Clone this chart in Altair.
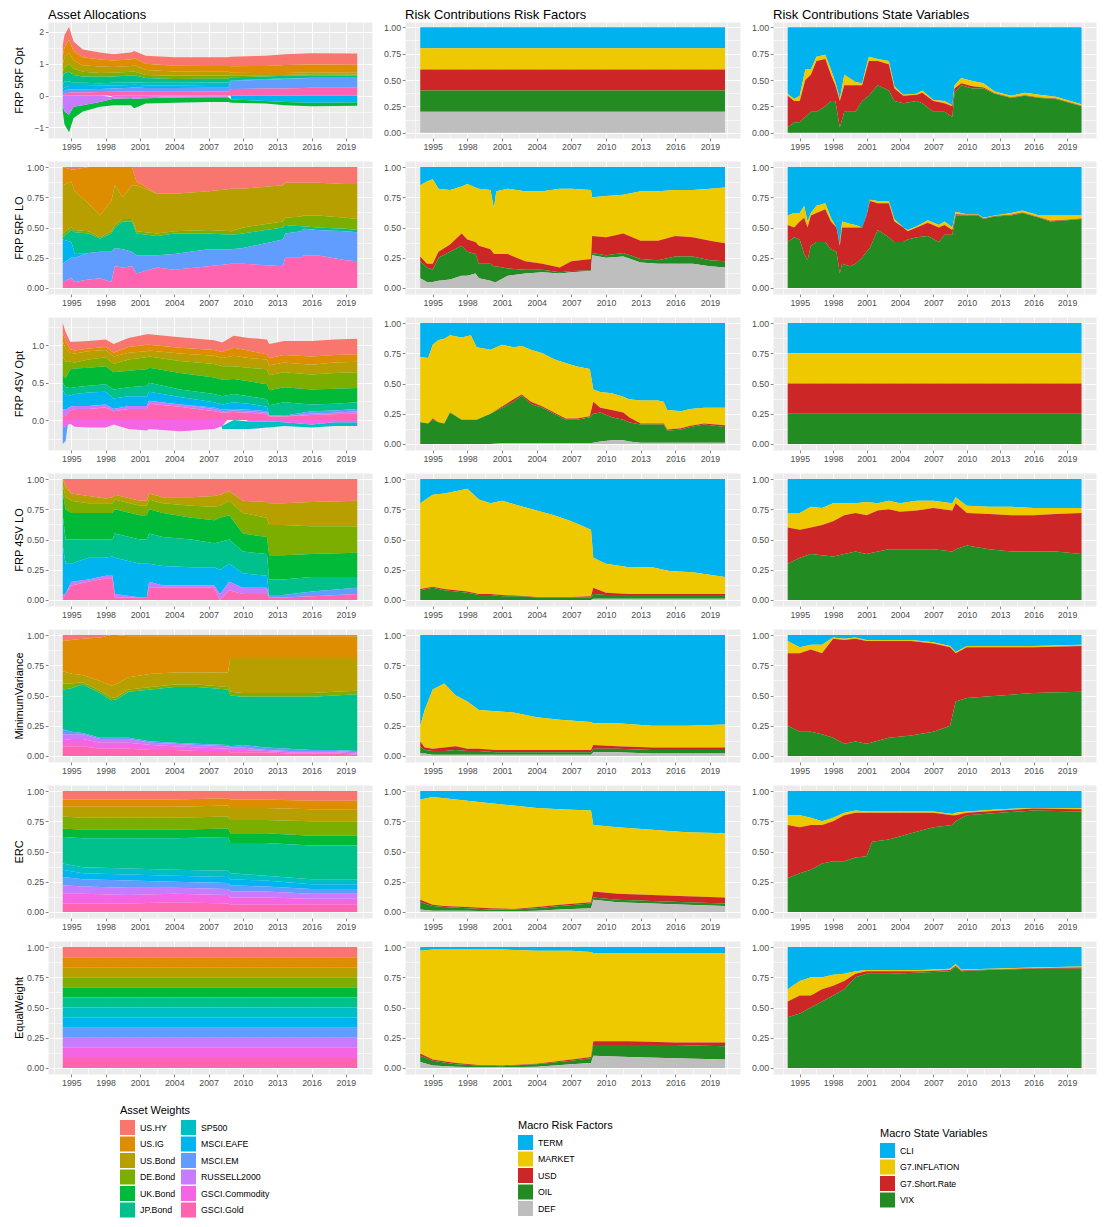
import json
import altair as alt
import pandas as pd

# ---------------- categories ----------------
ROW_LABELS = ["FRP 5RF Opt", "FRP 5RF LO", "FRP 4SV Opt", "FRP 4SV LO",
              "MinimumVariance", "ERC", "EqualWeight"]
COL_TITLES = ["Asset Allocations", "Risk Contributions Risk Factors",
              "Risk Contributions State Variables"]

ASSETS = ["US.HY", "US.IG", "US.Bond", "DE.Bond", "UK.Bond", "JP.Bond",
          "SP500", "MSCI.EAFE", "MSCI.EM", "RUSSELL2000", "GSCI.Commodity", "GSCI.Gold"]
ASSET_COLORS = ["#F8766D", "#DE8C00", "#B79F00", "#7CAE00", "#00BA38", "#00C08B",
                "#00BFC4", "#00B4F0", "#619CFF", "#C77CFF", "#F564E3", "#FF64B0"]
FACTORS = ["TERM", "MARKET", "USD", "OIL", "DEF"]
FACTOR_COLORS = ["#00B2EE", "#EEC900", "#CD2626", "#228B22", "#BEBEBE"]
STATES = ["CLI", "G7.INFLATION", "G7.Short.Rate", "VIX"]
STATE_COLORS = ["#00B2EE", "#EEC900", "#CD2626", "#228B22"]

# ---------------- tick labels ----------------
X_MAJOR = [1995, 1998, 2001, 2004, 2007, 2010, 2013, 2016, 2019]
X_MINOR = [1993.5, 1996.5, 1999.5, 2002.5, 2005.5, 2008.5, 2011.5, 2014.5, 2017.5, 2020.5]
P_MAJOR = [0.0, 0.25, 0.5, 0.75, 1.0]
P_MINOR = [0.125, 0.375, 0.625, 0.875]
W1_MAJOR = [-1, 0, 1, 2]
W1_MINOR = [-0.5, 0.5, 1.5]
W3_MAJOR = [0.0, 0.5, 1.0]
W3_MINOR = [-0.25, 0.25, 0.75, 1.25]

# ---------------- asset weights (columns in ASSETS order) ----------------
T_W1 = [1994.25, 1994.4, 1994.8, 1995.2, 1996.0, 1997.5, 1998.7, 2000.2, 2000.5, 2001.5,
        2004.0, 2007.0, 2008.7, 2009.0, 2012.0, 2013.7, 2016.0, 2020.0]
W1 = [
    [.35, .25, .25, .15, -.20, .25, .15, .10, .05, -.30, 0, .05],
    [.40, .30, .30, .20, -.40, .25, .20, .10, .10, -.50, 0, .05],
    [.40, .40, .35, .25, -.55, .30, .15, .10, .10, -.60, 0, .10],
    [.30, .30, .25, .20, -.35, .25, .10, .10, .10, -.35, 0, .10],
    [.25, .25, .20, .15, -.20, .20, .10, .10, .10, -.30, 0, .10],
    [.22, .22, .20, .12, -.15, .20, .08, .10, .10, -.20, 0, .11],
    [.20, .20, .18, .12, -.20, .20, .08, .10, .10, -.05, -.05, .12],
    [.22, .20, .18, .12, -.22, .22, .08, .08, .12, -.04, -.04, .13],
    [.22, .22, .20, .12, -.30, .22, .08, .08, .12, -.05, -.05, .14],
    [.25, .20, .15, .10, -.17, .15, .08, .08, .12, -.04, -.04, .12],
    [.26, .18, .14, .10, -.16, .12, .08, .08, .12, -.03, -.03, .12],
    [.27, .18, .12, .10, -.15, .12, .08, .08, .12, -.03, -.02, .13],
    [.27, .18, .12, .10, -.15, .12, .08, .08, .12, -.03, -.02, .13],
    [.30, .20, .08, .06, -.10, .10, .02, -.12, .25, 0, 0, .21],
    [.32, .22, .07, .04, -.08, .08, .02, -.17, .28, 0, 0, .22],
    [.34, .25, .06, .03, -.10, .08, .02, -.20, .30, 0, 0, .22],
    [.35, .25, .06, .03, -.11, .08, .01, -.22, .30, 0, 0, .25],
    [.35, .25, .06, .03, -.11, .07, .01, -.21, .30, 0, 0, .25],
]

T_W2 = [1994.25, 1995.0, 1995.3, 1996.5, 1997.5, 1998.5, 1998.8, 1999.5, 2000.3, 2000.7,
        2002.5, 2004.0, 2007.0, 2009.0, 2010.0, 2013.5, 2013.7, 2015.1, 2015.3, 2016.5,
        2019.0, 2020.0]
W2 = [
    [0, .15, .40, .03, 0, .02, 0, .20, .15, 0, 0, .05],
    [.02, .10, .38, .02, 0, .10, 0, .13, .17, 0, 0, .08],
    [.02, .18, .32, .02, 0, .18, 0, .03, .20, 0, 0, .05],
    [0, .30, .23, .02, 0, .16, 0, 0, .22, 0, 0, .07],
    [0, .40, .18, .01, 0, .11, 0, 0, .22, 0, 0, .08],
    [0, .28, .25, .02, 0, .15, 0, 0, .25, 0, 0, .05],
    [0, .15, .33, .02, 0, .17, 0, 0, .15, 0, 0, .18],
    [0, .25, .18, .02, 0, .23, 0, 0, .15, 0, 0, .17],
    [0, .15, .28, .02, 0, .25, 0, 0, .12, 0, 0, .18],
    [.12, .03, .38, .02, 0, .18, 0, 0, .15, 0, 0, .12],
    [.22, 0, .33, .02, 0, .16, 0, 0, .10, 0, 0, .17],
    [.22, 0, .31, .02, 0, .17, 0, 0, .13, 0, 0, .15],
    [.20, 0, .32, .03, 0, .13, 0, 0, .14, 0, 0, .18],
    [.18, 0, .35, .03, 0, .12, 0, 0, .12, 0, 0, .20],
    [.18, 0, .32, .05, 0, .12, 0, 0, .13, 0, 0, .20],
    [.15, 0, .30, .05, 0, .10, 0, 0, .22, 0, 0, .18],
    [.13, 0, .29, .06, 0, .07, 0, 0, .20, 0, 0, .25],
    [.13, 0, .28, .08, 0, .04, 0, 0, .22, 0, 0, .25],
    [.13, 0, .27, .09, 0, .02, 0, 0, .22, 0, 0, .27],
    [.13, 0, .27, .10, 0, .02, 0, 0, .21, 0, 0, .27],
    [.14, 0, .28, .09, 0, .02, 0, 0, .24, 0, 0, .23],
    [.14, 0, .29, .09, 0, .02, 0, 0, .24, 0, 0, .22],
]

T_W3 = [1994.25, 1994.5, 1994.9, 1995.3, 1996.5, 1998.0, 1998.7, 2000.0, 2001.6, 2001.8,
        2004.5, 2007.5, 2008.2, 2009.2, 2010.5, 2012.1, 2012.3, 2013.6, 2016.0, 2018.0, 2020.0]
W3 = [
    [.13, .12, .20, .25, .10, .10, 0, .25, -.22, .10, -.10, .05],
    [.12, .10, .18, .22, .12, .10, 0, .20, -.20, .08, -.08, .06],
    [.10, .05, .12, .10, .25, .10, 0, .15, 0, .05, -.05, .13],
    [.12, .04, .12, .08, .25, .09, 0, .16, 0, .04, -.09, .15],
    [.10, .04, .11, .11, .24, .09, 0, .18, 0, .04, -.10, .15],
    [.10, .04, .10, .12, .24, .10, 0, .17, 0, .04, -.10, .17],
    [.12, .05, .10, .11, .23, .12, 0, .14, 0, .03, -.06, .12],
    [.12, .08, .09, .15, .22, .12, 0, .13, 0, .04, -.12, .15],
    [.14, .09, .08, .16, .22, .14, 0, .13, 0, .04, -.14, .15],
    [.14, .08, .08, .15, .20, .12, 0, .12, 0, .04, -.12, .22],
    [.14, .08, .10, .16, .22, .10, 0, .10, 0, .03, -.15, .18],
    [.13, .08, .11, .18, .22, .11, 0, .07, .02, .03, -.12, .12],
    [.13, .08, .11, .18, .22, .11, -.04, .07, .02, .02, -.08, .10],
    [.16, .11, .14, .17, .20, .11, -.12, .09, .02, .02, 0, .11],
    [.17, .10, .13, .18, .20, .10, -.10, .08, .02, .02, -.02, .10],
    [.20, .07, .13, .20, .20, .10, -.08, .06, .02, .02, -.02, .08],
    [.19, .10, .13, .20, .20, .13, -.08, 0, .01, .01, -.02, .05],
    [.19, .10, .13, .20, .20, .18, -.05, 0, .01, 0, -.03, .05],
    [.21, .11, .13, .20, .20, .09, -.04, 0, .03, .02, -.06, .07],
    [.21, .10, .14, .21, .20, .09, -.05, 0, .03, .02, -.03, .08],
    [.21, .10, .14, .21, .19, .09, -.05, 0, .03, .03, -.03, .09],
]

T_W4 = [1994.25, 1994.5, 1995.0, 1996.5, 1998.0, 1998.6, 1998.8, 2001.0, 2001.6, 2001.8,
        2003.0, 2005.5, 2007.5, 2008.0, 2008.8, 2010.0, 2012.1, 2012.3, 2013.5, 2016.0, 2020.0]
W4 = [
    [0, 0, .05, .07, .18, .25, 0, .40, 0, .05, 0, 0],
    [.05, .02, .08, .10, .25, .20, 0, .25, 0, 0, 0, .05],
    [.12, 0, .06, .10, .22, .20, 0, .15, 0, .03, 0, .12],
    [.14, 0, .06, .08, .22, .15, 0, .18, 0, .02, 0, .15],
    [.16, 0, .04, .08, .22, .15, 0, .15, 0, .02, 0, .18],
    [.15, 0, .05, .08, .22, .14, 0, .16, 0, .02, 0, .18],
    [.13, 0, .04, .08, .20, .20, 0, .30, 0, .03, 0, .02],
    [.18, 0, .04, .08, .20, .20, 0, .28, 0, 0, 0, .02],
    [.18, 0, .04, .08, .20, .20, 0, .28, 0, 0, 0, .02],
    [.12, 0, .05, .08, .20, .25, 0, .15, 0, .05, 0, .10],
    [.15, 0, .05, .08, .20, .24, 0, .16, 0, .02, 0, .10],
    [.15, 0, .07, .10, .18, .23, 0, .15, 0, .02, 0, .10],
    [.14, 0, .09, .11, .19, .20, 0, .15, 0, .02, 0, .10],
    [.13, 0, .09, .10, .20, .23, 0, .20, 0, .05, 0, 0],
    [.10, 0, .08, .12, .20, .20, 0, .15, 0, .07, 0, .08],
    [.18, 0, .10, .17, .15, .18, 0, .12, 0, .05, 0, .05],
    [.19, 0, .13, .16, .14, .18, 0, .10, 0, .05, 0, .05],
    [.20, 0, .18, .25, .20, .13, 0, 0, .02, 0, 0, .02],
    [.20, 0, .18, .25, .20, .13, 0, 0, .02, 0, 0, .02],
    [.19, 0, .20, .23, .19, .12, 0, 0, .04, 0, 0, .03],
    [.18, 0, .21, .22, .20, .09, 0, 0, .05, 0, 0, .05],
]

T_W5 = [1994.25, 1995.0, 1996.0, 1997.5, 1998.5, 1999.0, 2000.0, 2002.0, 2004.0, 2006.0,
        2008.7, 2008.9, 2010.0, 2012.0, 2014.0, 2016.0, 2018.0, 2020.0]
W5 = [
    [.05, .25, .10, .05, 0, .33, 0, 0, .04, .05, .05, .08],
    [.04, .28, .08, .04, 0, .36, 0, 0, .02, .04, .06, .08],
    [.03, .30, .06, .02, 0, .40, 0, 0, .01, .04, .06, .08],
    [.02, .36, .08, .02, 0, .37, 0, 0, .01, .03, .05, .06],
    [0, .42, .10, .02, 0, .31, 0, 0, .01, .03, .05, .06],
    [0, .40, .11, .02, 0, .32, 0, 0, .01, .03, .05, .06],
    [.01, .34, .10, .02, 0, .38, 0, 0, .01, .03, .05, .06],
    [.01, .31, .11, .02, 0, .43, 0, 0, .01, .02, .04, .05],
    [.01, .30, .10, .02, 0, .46, 0, 0, .01, .02, .03, .05],
    [.01, .30, .10, .02, 0, .47, 0, 0, .01, .02, .03, .04],
    [.01, .30, .12, .02, 0, .46, 0, 0, .01, .02, .02, .04],
    [.01, .18, .28, .03, 0, .42, 0, 0, .01, .02, .02, .03],
    [.01, .18, .29, .03, 0, .40, 0, 0, .02, .02, .02, .03],
    [.01, .18, .29, .03, 0, .42, 0, 0, .02, .01, .01, .03],
    [.01, .18, .29, .03, 0, .43, 0, 0, .02, .01, .01, .02],
    [.01, .18, .29, .03, 0, .44, 0, 0, .01, .01, .01, .02],
    [.01, .18, .28, .03, 0, .45, 0, 0, .01, .01, .01, .02],
    [.01, .18, .27, .03, 0, .47, 0, 0, .01, .01, .01, .01],
]

T_W6 = [1994.25, 1996.0, 2000.0, 2004.0, 2008.7, 2008.9, 2012.0, 2016.0, 2020.0]
W6 = [
    [.07, .06, .08, .10, .07, .22, .05, .06, .07, .07, .08, .07],
    [.07, .06, .09, .10, .07, .24, .05, .05, .06, .06, .08, .07],
    [.07, .06, .09, .10, .07, .25, .05, .05, .06, .06, .07, .07],
    [.07, .06, .09, .10, .07, .26, .05, .05, .05, .05, .07, .08],
    [.06, .06, .09, .10, .07, .28, .05, .05, .05, .05, .07, .07],
    [.07, .07, .10, .11, .08, .25, .05, .05, .05, .05, .06, .06],
    [.07, .07, .10, .11, .08, .27, .04, .05, .04, .05, .06, .06],
    [.08, .07, .10, .12, .08, .28, .04, .04, .04, .04, .05, .06],
    [.08, .07, .10, .12, .08, .28, .04, .04, .04, .04, .05, .06],
]

T_W7 = [1994.25, 2020.0]
W7 = [
    [.0833, .0833, .0833, .0833, .0833, .0833, .0833, .0833, .0833, .0833, .0833, .0833],
    [.0833, .0833, .0833, .0833, .0833, .0833, .0833, .0833, .0833, .0833, .0833, .0833],
]

# ---------------- risk factor contributions (TERM, MARKET, USD, OIL, DEF) ----------------
T_F1 = [1993.92, 2020.3]
F1 = [[.2, .2, .2, .2, .2], [.2, .2, .2, .2, .2]]

T_F2 = [1993.92, 1994.5, 1995.0, 1995.5, 1996.5, 1997.5, 1998.0, 1998.7, 1999.0, 2000.0,
        2000.3, 2000.5, 2001.5, 2003.0, 2004.5, 2006.0, 2007.0, 2008.7, 2008.8, 2010.0,
        2011.5, 2013.0, 2014.5, 2016.0, 2017.5, 2019.0, 2020.3]
F2 = [
    [.15, .59, .04, .14, .08], [.12, .68, .03, .12, .05], [.10, .70, .05, .10, .05],
    [.18, .52, .05, .19, .06], [.19, .45, .06, .23, .07], [.16, .39, .10, .25, .10],
    [.14, .46, .10, .20, .10], [.17, .45, .10, .16, .12], [.18, .47, .15, .12, .08],
    [.19, .49, .12, .14, .06], [.34, .38, .10, .13, .05], [.20, .52, .10, .13, .05],
    [.18, .54, .12, .06, .10], [.20, .58, .07, .03, .12], [.20, .60, .05, .02, .13],
    [.18, .65, .04, .01, .12], [.18, .60, .08, .01, .13], [.19, .57, .095, .005, .14],
    [.25, .32, .14, .02, .27], [.24, .34, .15, .02, .25], [.23, .32, .16, .03, .26],
    [.20, .41, .15, .03, .21], [.20, .41, .16, .03, .20], [.19, .38, .17, .06, .20],
    [.19, .39, .16, .06, .20], [.18, .43, .16, .05, .18], [.17, .46, .15, .05, .17],
]

T_F3 = [1993.92, 1994.6, 1995.0, 1995.5, 1996.0, 1996.5, 1997.5, 1998.3, 1998.8, 2000.0,
        2001.0, 2002.0, 2002.7, 2003.5, 2004.5, 2005.5, 2006.5, 2007.5, 2008.6, 2008.9,
        2009.5, 2010.5, 2011.5, 2012.0, 2013.0, 2014.5, 2015.0, 2015.3, 2016.5, 2017.3,
        2018.5, 2020.3]
F3 = [
    [.28, .54, 0, .18, 0], [.29, .54, 0, .17, 0], [.18, .61, .01, .20, 0],
    [.14, .68, 0, .18, 0], [.13, .70, 0, .17, 0], [.10, .64, 0, .26, 0],
    [.12, .68, 0, .20, 0], [.10, .70, 0, .20, 0], [.20, .60, 0, .20, 0],
    [.22, .53, 0, .25, 0], [.18, .51, .01, .295, .005], [.20, .43, .02, .345, .005],
    [.19, .40, .01, .395, .005], [.22, .43, .02, .325, .005], [.25, .44, .01, .295, .005],
    [.30, .44, .01, .245, .005], [.33, .46, .01, .195, .005], [.36, .43, .01, .195, .005],
    [.38, .39, .01, .215, .005], [.55, .10, .10, .24, .01], [.57, .13, .04, .24, .02],
    [.58, .14, .06, .19, .03], [.61, .13, .06, .17, .03], [.63, .15, .04, .16, .02],
    [.64, .19, .01, .15, .01], [.64, .19, .01, .15, .01], [.65, .18, .01, .15, .01],
    [.72, .16, .01, .10, .01], [.73, .14, .01, .11, .01], [.71, .14, .01, .13, .01],
    [.70, .13, .01, .15, .01], [.70, .145, .015, .13, .01],
]

T_F4 = [1993.92, 1995.0, 1996.0, 1997.0, 1998.0, 1999.0, 2000.0, 2001.0, 2002.5, 2004.0,
        2005.5, 2007.0, 2008.7, 2008.9, 2010.0, 2012.0, 2014.0, 2015.5, 2017.5, 2020.3]
F4 = [
    [.20, .71, .01, .08, 0], [.13, .76, .01, .10, 0], [.12, .79, .01, .08, 0],
    [.10, .82, .01, .07, 0], [.08, .85, .01, .06, 0], [.17, .78, .01, .04, 0],
    [.20, .75, .01, .04, 0], [.18, .78, .01, .03, 0], [.22, .745, .005, .03, 0],
    [.26, .715, .005, .02, 0], [.30, .675, .005, .02, 0], [.35, .625, .005, .02, 0],
    [.42, .55, .01, .02, 0], [.65, .25, .05, .04, .01], [.70, .24, .02, .03, .01],
    [.73, .22, .01, .03, .01], [.73, .22, .01, .03, .01], [.76, .19, .01, .03, .01],
    [.77, .18, .01, .03, .01], [.81, .14, .01, .03, .01],
]

T_F5 = [1993.92, 1994.3, 1995.0, 1996.0, 1997.0, 1998.0, 1999.0, 2000.5, 2002.0, 2004.0,
        2006.0, 2008.7, 2008.9, 2011.0, 2014.0, 2017.0, 2020.3]
F5 = [
    [.75, .13, .04, .06, .02], [.62, .31, .02, .03, .02], [.45, .49, .02, .03, .01],
    [.40, .53, .03, .03, .01], [.50, .42, .03, .04, .01], [.55, .39, .02, .03, .01],
    [.62, .32, .02, .03, .01], [.63, .32, .02, .02, .01], [.64, .31, .02, .02, .01],
    [.68, .27, .02, .02, .01], [.70, .25, .02, .02, .01], [.72, .23, .02, .02, .01],
    [.73, .18, .03, .03, .03], [.73, .19, .02, .03, .03], [.75, .18, .02, .03, .02],
    [.75, .18, .02, .03, .02], [.74, .19, .02, .03, .02],
]

T_F6 = [1993.92, 1995.0, 1996.0, 1998.0, 2000.0, 2002.0, 2004.0, 2006.0, 2008.7, 2008.9,
        2011.0, 2014.0, 2017.0, 2020.3]
F6 = [
    [.07, .83, .02, .06, .02], [.05, .89, .01, .04, .01], [.06, .89, .01, .03, .01],
    [.08, .88, .01, .02, .01], [.10, .87, .01, .015, .005], [.12, .855, .005, .015, .005],
    [.14, .82, .01, .02, .01], [.15, .79, .01, .03, .02], [.16, .76, .01, .04, .03],
    [.28, .55, .05, .02, .10], [.30, .55, .05, .02, .08], [.32, .54, .05, .02, .07],
    [.34, .53, .05, .02, .06], [.35, .53, .05, .02, .05],
]

T_F7 = [1993.92, 1995.0, 1997.0, 1999.0, 2001.0, 2004.0, 2007.0, 2008.7, 2008.9, 2012.0,
        2016.0, 2020.3]
F7 = [
    [.03, .85, .02, .05, .05], [.02, .91, .01, .04, .02], [.02, .94, .01, .02, .01],
    [.02, .955, .005, .015, .005], [.02, .96, .005, .01, .005], [.03, .935, .005, .02, .01],
    [.03, .90, .01, .03, .03], [.04, .87, .01, .04, .04], [.05, .73, .03, .09, .10],
    [.05, .73, .03, .10, .09], [.05, .74, .02, .11, .08], [.05, .74, .03, .11, .07],
]

# ---------------- state variable contributions (CLI, G7.INFLATION, G7.Short.Rate, VIX) -------
T_S1 = [1993.92, 1994.5, 1995.0, 1995.5, 1996.0, 1996.5, 1997.3, 1997.8, 1998.2, 1998.6,
        1999.0, 2000.0, 2000.6, 2001.2, 2002.0, 2003.0, 2003.5, 2004.3, 2005.5, 2006.0,
        2007.0, 2008.0, 2008.7, 2008.9, 2009.5, 2010.5, 2011.5, 2012.5, 2014.0, 2015.2,
        2016.5, 2018.0, 2020.3]
S1 = [
    [.63, .02, .30, .05], [.68, .02, .20, .10], [.65, .05, .20, .10], [.40, .10, .35, .15],
    [.40, .05, .35, .20], [.28, .04, .48, .20], [.26, .04, .45, .25], [.40, .05, .25, .30],
    [.52, .03, .15, .30], [.68, .02, .25, .05], [.45, .10, .25, .20], [.52, .03, .25, .20],
    [.53, .02, .15, .30], [.28, .04, .33, .35], [.30, .02, .23, .45], [.32, .03, .25, .40],
    [.56, .02, .12, .30], [.64, .01, .07, .28], [.63, .01, .06, .30], [.60, .02, .10, .28],
    [.69, .01, .10, .20], [.70, .02, .08, .20], [.74, .01, .10, .15], [.55, .03, .04, .38],
    [.48, .05, .02, .45], [.51, .05, .02, .42], [.53, .04, .01, .42], [.61, .015, .005, .37],
    [.65, .015, .005, .33], [.62, .025, .005, .35], [.64, .025, .005, .33],
    [.66, .015, .005, .32], [.73, .015, .005, .25],
]

T_S2 = [1993.92, 1994.5, 1995.0, 1995.4, 1995.7, 1996.0, 1996.5, 1997.3, 1997.8, 1998.3,
        1998.6, 1998.8, 1999.5, 2000.0, 2000.6, 2001.0, 2001.3, 2002.0, 2003.0, 2003.5,
        2004.3, 2004.7, 2005.5, 2006.5, 2007.5, 2008.0, 2008.7, 2009.0, 2010.0, 2011.0,
        2011.5, 2012.5, 2014.0, 2015.0, 2016.5, 2017.5, 2019.0, 2020.3]
S2 = [
    [.40, .08, .14, .38], [.38, .12, .08, .42], [.38, .07, .15, .40], [.32, .10, .30, .28],
    [.45, .05, .27, .23], [.38, .02, .25, .35], [.32, .06, .24, .38], [.30, .05, .27, .38],
    [.42, .03, .23, .32], [.50, 0, .20, .30], [.64, .01, .23, .12], [.45, .05, .30, .20],
    [.47, .03, .32, .18], [.48, .02, .30, .20], [.50, 0, .25, .25], [.40, 0, .30, .30],
    [.27, .01, .39, .33], [.28, .02, .22, .48], [.28, .02, .28, .42], [.43, .02, .17, .38],
    [.50, 0, .12, .38], [.52, .01, .07, .40], [.49, .01, .08, .42], [.44, .02, .11, .43],
    [.48, .02, .12, .38], [.45, .03, .08, .44], [.50, .02, .04, .44], [.37, .02, .01, .60],
    [.39, .005, .005, .60], [.39, .005, .005, .60], [.42, .005, .005, .57],
    [.40, .005, .005, .59], [.38, .015, .005, .60], [.36, .015, .005, .62],
    [.40, .015, .005, .58], [.40, .045, .005, .55], [.40, .035, .005, .56],
    [.40, .025, .005, .57],
]

T_S3 = [1993.92, 2020.3]
S3 = [[.25, .25, .25, .25], [.25, .25, .25, .25]]

T_S4 = [1993.92, 1995.0, 1996.0, 1997.0, 1998.0, 1999.0, 2000.0, 2001.0, 2002.0, 2003.0,
        2004.0, 2005.5, 2007.0, 2008.7, 2009.0, 2010.0, 2012.0, 2014.0, 2016.0, 2018.0, 2020.3]
S4 = [
    [.28, .12, .30, .30], [.28, .14, .23, .35], [.23, .17, .22, .38], [.24, .14, .25, .37],
    [.20, .15, .29, .36], [.20, .10, .32, .38], [.20, .08, .32, .40], [.19, .11, .32, .38],
    [.20, .06, .34, .40], [.18, .07, .33, .42], [.20, .07, .31, .42], [.18, .08, .32, .42],
    [.18, .06, .34, .42], [.20, .06, .34, .40], [.15, .05, .38, .42], [.22, .06, .27, .45],
    [.23, .06, .29, .42], [.23, .07, .30, .40], [.24, .06, .30, .40], [.24, .05, .31, .40],
    [.24, .04, .34, .38],
]

T_S5 = [1993.92, 1995.0, 1996.0, 1997.0, 1998.0, 1999.0, 2000.0, 2001.0, 2003.0, 2005.0,
        2007.0, 2008.5, 2009.0, 2010.0, 2013.0, 2016.0, 2020.3]
S5 = [
    [.05, .10, .60, .25], [.10, .05, .65, .20], [.08, .04, .68, .20], [.08, .07, .67, .18],
    [.02, .01, .82, .15], [.03, .01, .86, .10], [.02, .01, .85, .12], [.04, .01, .85, .10],
    [.04, .01, .80, .15], [.04, .01, .78, .17], [.06, .01, .73, .20], [.09, .01, .65, .25],
    [.14, .01, .40, .45], [.09, .01, .42, .48], [.09, .01, .40, .50], [.09, .01, .38, .52],
    [.08, .01, .38, .53],
]

T_S6 = [1993.92, 1995.0, 1996.0, 1997.0, 1998.0, 1999.0, 2000.0, 2001.0, 2001.5, 2003.0,
        2005.0, 2007.0, 2008.7, 2009.0, 2010.0, 2013.0, 2016.0, 2020.3]
S6 = [
    [.20, .08, .44, .28], [.20, .10, .38, .32], [.22, .06, .37, .35], [.25, .03, .32, .40],
    [.22, .03, .33, .42], [.18, .02, .38, .42], [.16, .02, .37, .45], [.17, .01, .36, .46],
    [.17, .01, .24, .58], [.17, .01, .22, .60], [.17, .01, .17, .65], [.17, .01, .12, .70],
    [.19, .01, .08, .72], [.18, .02, .05, .75], [.17, .01, .02, .80], [.15, .01, .02, .82],
    [.14, .005, .015, .84], [.14, .01, .02, .83],
]

T_S7 = [1993.92, 1995.0, 1996.0, 1997.0, 1998.0, 1999.0, 2000.0, 2001.0, 2003.0, 2006.0,
        2008.5, 2009.0, 2009.5, 2012.0, 2016.0, 2020.3]
S7 = [
    [.35, .10, .13, .42], [.28, .12, .15, .45], [.25, .15, .10, .50], [.25, .10, .10, .55],
    [.23, .09, .08, .60], [.22, .06, .07, .65], [.20, .02, .03, .75], [.19, .01, .02, .78],
    [.19, .01, .02, .78], [.19, .01, .01, .79], [.18, .01, .01, .80], [.14, .015, .005, .84],
    [.185, .01, .005, .80], [.18, .005, .005, .81], [.17, .005, .005, .82], [.16, .01, .01, .82],
]

# ---------------- layout ----------------
X_DOMAIN_W = [1992.96, 2021.29]
X_DOMAIN = [1992.6, 2021.6]
P_DOMAIN = [-0.05, 1.05]
W1_DOMAIN = [-1.33, 2.31]
W3_DOMAIN = [-0.40, 1.38]
COL_W = [324, 335, 323]
ROW_H = [116, 133, 133, 133, 133, 133, 133]

FONT = "Liberation Sans"


def make_axis(majors, minors, fmt, title=None, **extra):
    test = "indexof(%s, datum.value) >= 0" % json.dumps(majors)
    return alt.Axis(
        values=sorted(majors + minors),
        labelExpr="%s ? format(datum.value, '%s') : ''" % (test, fmt),
        gridColor="white",
        gridWidth={"condition": {"test": test, "value": 1.1}, "value": 0.55},
        tickOpacity={"condition": {"test": test, "value": 1}, "value": 0},
        tickColor="#333333", tickWidth=0.6, tickSize=2.75,
        domain=False, labelColor="#4D4D4D", labelFontSize=8.8, labelFont=FONT,
        labelPadding=1.6, labelOverlap=False, labelFlush=False,
        title=title, **extra)


def panel(times, matrix, names, colors, legend_order, xdomain, ydomain, ymaj, ymin, yfmt,
          w, h, ytitle=None, top_title=None, legend=None):
    recs = []
    for j, n in enumerate(names):
        col = [row[j] for row in matrix]
        parts = []
        if any(v > 0 for v in col):
            parts.append("pos")
        if any(v < 0 for v in col):
            parts.append("neg")
        for p in parts:
            for t, v in zip(times, col):
                val = max(v, 0.0) if p == "pos" else min(v, 0.0)
                recs.append({"t": t, "series": n, "part": p, "k": j, "value": val})
    df = pd.DataFrame(recs)
    cmap = dict(zip(names, colors))
    if ytitle:
        yaxis = make_axis(ymaj, ymin, yfmt, title=ytitle, titleX=-29, titleBaseline="middle",
                          titleFontSize=11, titleColor="black", titleFontWeight="normal",
                          titleFont=FONT)
    else:
        yaxis = make_axis(ymaj, ymin, yfmt)
    enc = dict(
        x=alt.X("t:Q", scale=alt.Scale(domain=xdomain, nice=False, zero=False),
                axis=make_axis(X_MAJOR, X_MINOR, "d")),
        y=alt.Y("value:Q", stack="zero",
                scale=alt.Scale(domain=ydomain, nice=False, zero=False), axis=yaxis),
        color=alt.Color("series:N",
                        scale=alt.Scale(domain=legend_order,
                                        range=[cmap[n] for n in legend_order]),
                        legend=legend),
        order=alt.Order("k:Q", sort="descending"),
        detail="part:N",
    )
    ch = alt.Chart(df).mark_area(interpolate="linear").encode(**enc)
    props = dict(width=w, height=h)
    if top_title:
        props["title"] = alt.TitleParams(top_title, anchor="start", frame="group",
                                         fontSize=13, fontWeight="normal", color="black",
                                         font=FONT, offset=0)
    return ch.properties(**props)


def legend(title, x, y, columns=1):
    return alt.Legend(title=title, orient="none", legendX=x, legendY=y, columns=columns,
                      symbolType="square", symbolSize=225, symbolStrokeWidth=0,
                      symbolOpacity=1, rowPadding=1.5, columnPadding=5, labelOffset=5,
                      labelFontSize=8.8, labelFont=FONT, labelColor="black",
                      titleFontSize=11, titleFont=FONT, titleFontWeight="normal",
                      titleColor="black", titlePadding=4)


W_DATA = [(T_W1, W1), (T_W2, W2), (T_W3, W3), (T_W4, W4), (T_W5, W5), (T_W6, W6), (T_W7, W7)]
F_DATA = [(T_F1, F1), (T_F2, F2), (T_F3, F3), (T_F4, F4), (T_F5, F5), (T_F6, F6), (T_F7, F7)]
S_DATA = [(T_S1, S1), (T_S2, S2), (T_S3, S3), (T_S4, S4), (T_S5, S5), (T_S6, S6), (T_S7, S7)]

cells = []
for r in range(7):
    last = r == 6
    if r == 0:
        yd, ym, yn, yf = W1_DOMAIN, W1_MAJOR, W1_MINOR, "d"
    elif r == 2:
        yd, ym, yn, yf = W3_DOMAIN, W3_MAJOR, W3_MINOR, ".1f"
    else:
        yd, ym, yn, yf = P_DOMAIN, P_MAJOR, P_MINOR, ".2f"
    cells.append(panel(W_DATA[r][0], W_DATA[r][1], ASSETS, ASSET_COLORS, ASSETS,
                       X_DOMAIN_W, yd, ym, yn, yf, COL_W[0], ROW_H[r], ytitle=ROW_LABELS[r],
                       top_title=COL_TITLES[0] if r == 0 else None,
                       legend=legend("Asset Weights", 72, 164, 2) if last else None))
    cells.append(panel(F_DATA[r][0], F_DATA[r][1], FACTORS, FACTOR_COLORS, FACTORS,
                       X_DOMAIN, P_DOMAIN, P_MAJOR, P_MINOR, ".2f", COL_W[1], ROW_H[r],
                       top_title=COL_TITLES[1] if r == 0 else None,
                       legend=legend("Macro Risk Factors", 113, 179) if last else None))
    cells.append(panel(S_DATA[r][0], S_DATA[r][1], STATES, STATE_COLORS, STATES,
                       X_DOMAIN, P_DOMAIN, P_MAJOR, P_MINOR, ".2f", COL_W[2], ROW_H[r],
                       top_title=COL_TITLES[2] if r == 0 else None,
                       legend=legend("Macro State Variables", 107, 187) if last else None))

chart = alt.concat(*cells, columns=3, spacing={"row": 23, "column": 33},
                   bounds="flush", align="each").resolve_scale(
    x="independent", y="independent", color="independent"
).properties(
    padding={"left": 4, "top": 0, "right": 0, "bottom": 0}
).configure(font=FONT).configure_view(fill="#EBEBEB", stroke="transparent")

chart.save("out.html", embed_options={"renderer": "svg", "actions": False})
